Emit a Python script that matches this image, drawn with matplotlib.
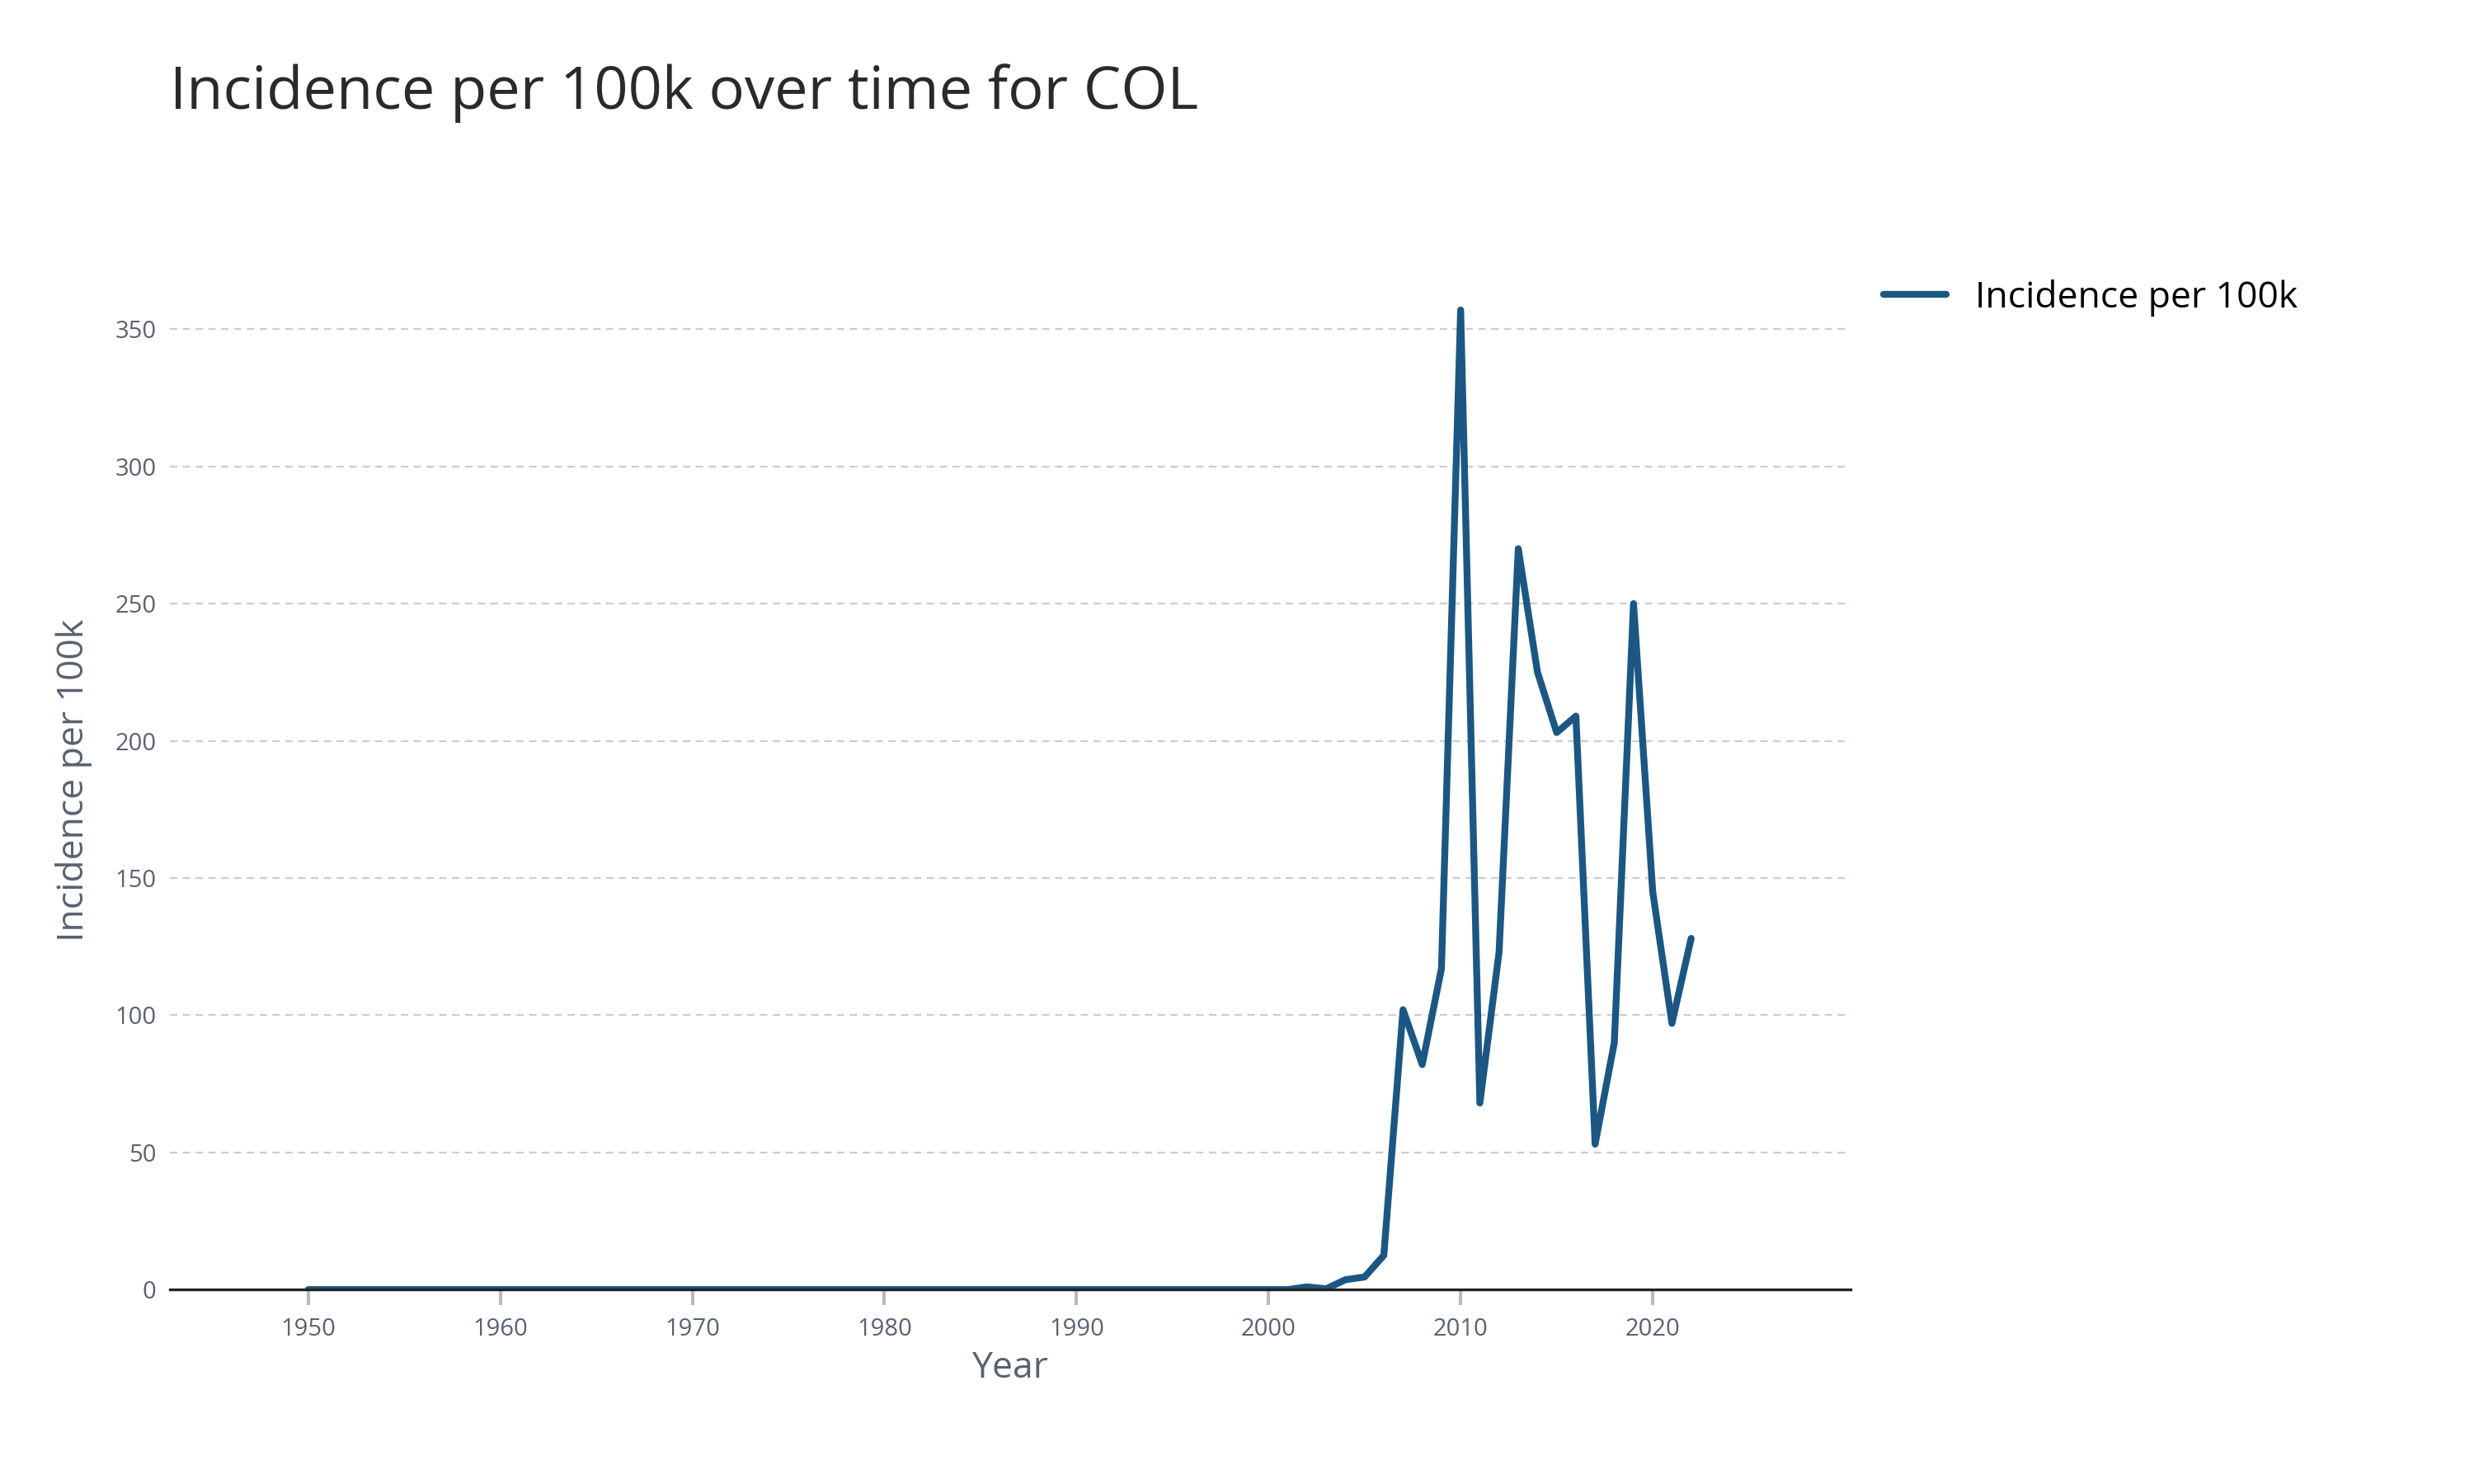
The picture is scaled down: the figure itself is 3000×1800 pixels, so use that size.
import numpy as np
import matplotlib.pyplot as plt

plt.rcParams['font.family'] = ['Open Sans', 'DejaVu Sans']

years = list(range(1950, 2023))
early = [0.0] * (2002 - 1950)
late = [1.0, 0.3, 3.6, 4.6, 12.5, 102, 82, 117, 357, 68, 123, 270, 225, 203, 209,
        53, 90, 250, 145, 97, 128]
incidence = early + late

line_color = "#1c5783"
grey = "#5a6270"

fig = plt.figure(figsize=(15, 9), dpi=200)
ax = fig.add_axes([0.0687, 0.131, 0.6793, 0.686])
ax.plot(years, incidence, color=line_color, linewidth=3.0, label="Incidence per 100k",
        solid_joinstyle="round", solid_capstyle="round")

ax.set_xlim(1942.8, 2030.3)
ax.set_ylim(0, 371)
ax.set_xticks(range(1950, 2021, 10))
ax.set_yticks(range(0, 351, 50))
ax.grid(axis="y", color="#cccccc", linestyle=(0, (4, 3)), linewidth=0.8)
ax.set_axisbelow(True)
for s in ["top", "right", "left"]:
    ax.spines[s].set_visible(False)
ax.spines["bottom"].set_color("#222222")
ax.spines["bottom"].set_linewidth(1.2)
ax.tick_params(axis="y", length=0, labelsize=10.5, labelcolor=grey, pad=6)
ax.tick_params(axis="x", direction="out", length=7, color="#bbbbbb", width=1.5,
               labelsize=10.5, labelcolor=grey, pad=5)

ax.set_xlabel("Year", fontsize=16, color=grey, labelpad=4)
ax.set_ylabel("Incidence per 100k", fontsize=16, color=grey, labelpad=10)
fig.text(0.0687, 0.937, "Incidence per 100k over time for COL", fontsize=26,
         color="#2a2a2a", va="center")

ax.legend(loc="upper left", bbox_to_anchor=(1.0, 1.025), frameon=False,
          fontsize=16, handlelength=1.7)

fig.savefig("out.png")
